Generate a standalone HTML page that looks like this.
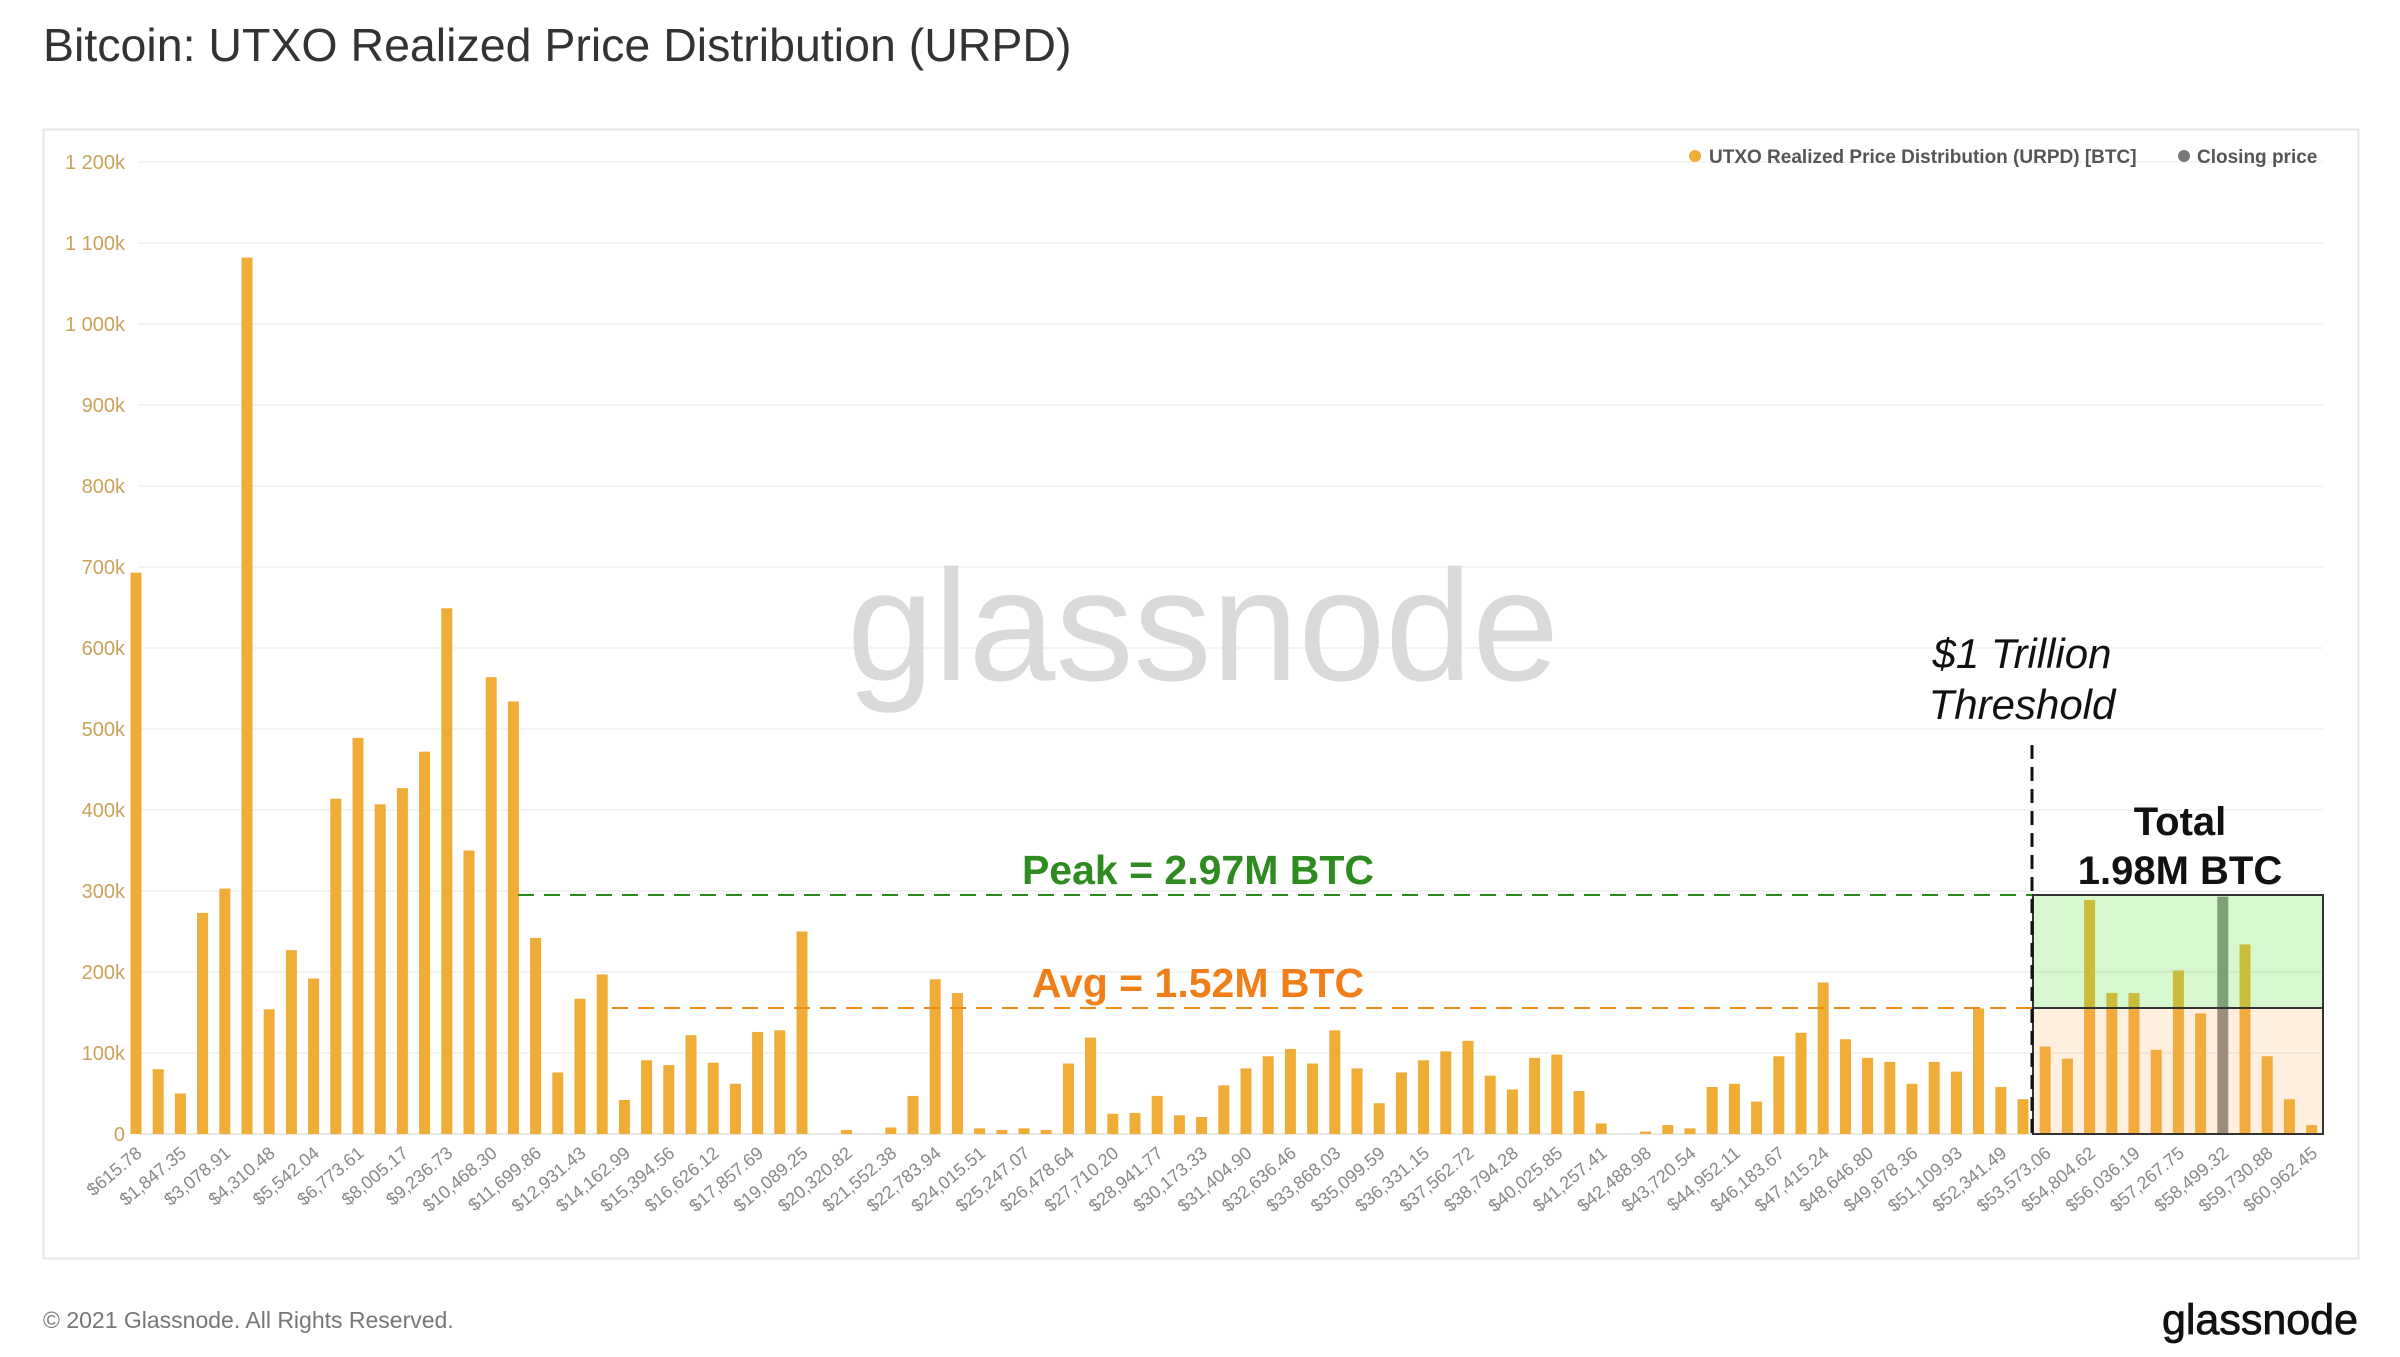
<!DOCTYPE html>
<html><head><meta charset="utf-8">
<style>
html,body{margin:0;padding:0;background:#fff;}
svg{display:block;font-family:"Liberation Sans",sans-serif;}
</style></head>
<body>
<svg id="s" width="2400" height="1357" viewBox="0 0 2400 1357" xmlns="http://www.w3.org/2000/svg">
<rect width="2400" height="1357" fill="#fff"/>
<text x="43" y="61" font-size="46.5" fill="#333">Bitcoin: UTXO Realized Price Distribution (URPD)</text>
<rect x="43.5" y="129.5" width="2315" height="1129" fill="none" stroke="#e6e6e6" stroke-width="2"/>
<g id="grid" stroke="#f0f0f0" stroke-width="1.5"></g>
<g font-size="20" fill="#c9a35a" text-anchor="end">
<text x="125" y="1141">0</text><text x="125" y="1060">100k</text><text x="125" y="979">200k</text>
<text x="125" y="898">300k</text><text x="125" y="817">400k</text><text x="125" y="736">500k</text>
<text x="125" y="655">600k</text><text x="125" y="574">700k</text><text x="125" y="493">800k</text>
<text x="125" y="412">900k</text><text x="125" y="331">1 000k</text><text x="125" y="250">1 100k</text>
<text x="125" y="169">1 200k</text>
</g>
<text x="1203" y="680" font-size="158" fill="#dadada" text-anchor="middle" textLength="712" lengthAdjust="spacingAndGlyphs">glassnode</text>
<g id="bars"></g>
<rect x="2033" y="895" width="290" height="113" fill="rgba(110,225,80,0.28)" stroke="#333" stroke-width="2"/>
<rect x="2033" y="1008" width="290" height="126" fill="rgba(250,175,90,0.2)" stroke="#333" stroke-width="2"/>
<line x1="518" y1="895" x2="2032" y2="895" stroke="#2a8a1c" stroke-width="2" stroke-dasharray="16,10"/>
<line x1="612" y1="1008" x2="2032" y2="1008" stroke="#f08a1a" stroke-width="2" stroke-dasharray="16,10"/>
<line x1="2032" y1="745" x2="2032" y2="1134" stroke="#111" stroke-width="3" stroke-dasharray="14,8"/>
<text x="1198" y="884" font-size="41" font-weight="bold" fill="#2e8b1f" text-anchor="middle">Peak = 2.97M BTC</text>
<text x="1198" y="997" font-size="41" font-weight="bold" fill="#f07f1a" text-anchor="middle">Avg = 1.52M BTC</text>
<text x="2022" y="668" font-size="42" font-style="italic" fill="#111" text-anchor="middle">$1 Trillion</text>
<text x="2022" y="719" font-size="42" font-style="italic" fill="#111" text-anchor="middle">Threshold</text>
<text x="2180" y="835" font-size="40" font-weight="bold" fill="#111" text-anchor="middle">Total</text>
<text x="2180" y="884" font-size="40" font-weight="bold" fill="#111" text-anchor="middle">1.98M BTC</text>
<circle cx="1695" cy="156" r="6" fill="#f0ad37"/>
<text x="1709" y="163" font-size="19" font-weight="bold" fill="#555">UTXO Realized Price Distribution (URPD) [BTC]</text>
<circle cx="2184" cy="156" r="6" fill="#777"/>
<text x="2197" y="163" font-size="19" font-weight="bold" fill="#555">Closing price</text>
<g id="xl" font-size="18" fill="#888" text-anchor="end"></g>
<text x="43" y="1328" font-size="23" fill="#777">© 2021 Glassnode. All Rights Reserved.</text>
<text x="2358" y="1334" font-size="43" fill="#111" text-anchor="end" stroke="#111" stroke-width="0.8">glassnode</text>
</svg>
<script>
var NS="http://www.w3.org/2000/svg";
function el(t,a,p){var e=document.createElementNS(NS,t);for(var k in a)e.setAttribute(k,a[k]);p.appendChild(e);return e;}
var g=document.getElementById("grid");
for(var i=1;i<=12;i++){var y=1134-81*i;el("line",{x1:138,x2:2323,y1:y,y2:y},g);}
el("line",{x1:138,x2:2323,y1:1134,y2:1134,stroke:"#e0e0e0"},g);
var v=[693,80,50,273,303,1082,154,227,192,414,489,407,427,472,649,350,564,534,242,76,167,197,42,91,85,122,88,62,126,128,
250,0,5,0,8,47,191,174,7,5,7,5,87,119,25,26,47,23,21,60,81,96,105,87,128,81,38,76,91,102,115,72,55,94,98,53,13,0,3,11,7,58,62,40,96,125,187,117,94,89,62,89,77,155,58,43,108,93,289,174,174,104,202,149,293,234,96,43,11];
var b=document.getElementById("bars");
for(var i=0;i<v.length;i++){if(!v[i])continue;var cx=136+22.2*i,h=v[i]*0.81;
el("rect",{x:cx-5.5,y:1134-h,width:11,height:h,fill:i==94?"#858585":"#efac36"},b);}
</script>
<script>
var L=["$615.78","$1,847.35","$3,078.91","$4,310.48","$5,542.04","$6,773.61","$8,005.17","$9,236.73","$10,468.30","$11,699.86","$12,931.43","$14,162.99","$15,394.56","$16,626.12","$17,857.69","$19,089.25","$20,320.82","$21,552.38","$22,783.94","$24,015.51","$25,247.07","$26,478.64","$27,710.20","$28,941.77","$30,173.33","$31,404.90","$32,636.46","$33,868.03","$35,099.59","$36,331.15","$37,562.72","$38,794.28","$40,025.85","$41,257.41","$42,488.98","$43,720.54","$44,952.11","$46,183.67","$47,415.24","$48,646.80","$49,878.36","$51,109.93","$52,341.49","$53,573.06","$54,804.62","$56,036.19","$57,267.75","$58,499.32","$59,730.88","$60,962.45"];
var xg=document.getElementById("xl");
for(var k=0;k<L.length;k++){var x=136+44.4*k+7,y=1155;
var t=el("text",{x:x,y:y,transform:"rotate(-40 "+x+" "+y+")"},xg);t.textContent=L[k];}
</script>
</body></html>
